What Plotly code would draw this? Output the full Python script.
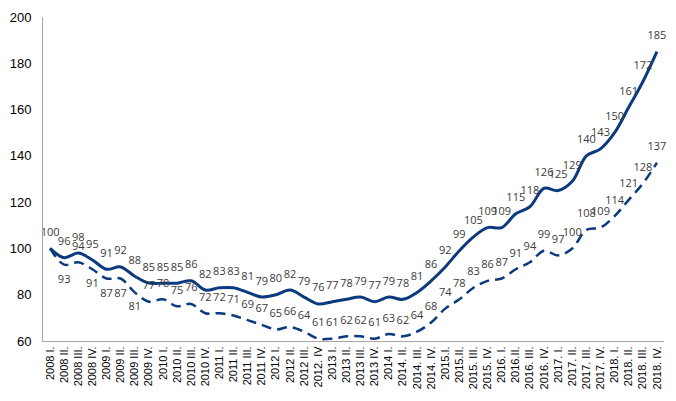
import plotly.graph_objects as go

quarters = ['2008 I.', '2008 II.', '2008 III.', '2008 IV.',
            '2009 I.', '2009 II.', '2009 III.', '2009 IV.',
            '2010 I.', '2010 II.', '2010 III.', '2010 IV.',
            '2011 I.', '2011 II.', '2011 III.', '2011 IV.',
            '2012 I.', '2012 II.', '2012 III.', '2012. IV',
            '2013 I.', '2013 II.', '2013 III.', '2013 IV.',
            '2014 I.', '2014. II.', '2014. III.', '2014. IV.',
            '2015.I.', '2015.II.', '2015. III.', '2015. IV.',
            '2016. I.', '2016.II.', '2016. III.', '2016. IV.',
            '2017. I.', '2017. II.', '2017. III.', '2017. IV.',
            '2018. I.', '2018. II.', '2018. III.', '2018. IV.']

# solid line
nominal = [100, 96, 98, 95, 91, 92, 88, 85, 85, 85, 86, 82, 83, 83, 81, 79,
           80, 82, 79, 76, 77, 78, 79, 77, 79, 78, 81, 86, 92, 99, 105, 109,
           109, 115, 118, 126, 125, 129, 140, 143, 150, 161, 172, 185]

# dashed line
real = [100, 93, 94, 91, 87, 87, 81, 77, 78, 75, 76, 72, 72, 71, 69, 67,
        65, 66, 64, 61, 61, 62, 62, 61, 63, 62, 64, 68, 74, 78, 83, 86,
        87, 91, 94, 99, 97, 100, 108, 109, 114, 121, 128, 137]

navy = '#0B3A7E'
label_font = dict(family='Open Sans', size=11, color='#3A3A3A')

# first dashed label sits under the solid one, the next few go below the line
real_text = [''] + [str(v) for v in real[1:]]
real_pos = ['top center'] * len(real)
for i in [1, 3, 4, 5, 6]:
    real_pos[i] = 'bottom center'

# invisible markers only push the labels away from the line
ghost = dict(size=14, opacity=0)

fig = go.Figure()
fig.add_trace(go.Scatter(x=quarters, y=nominal, mode='lines+markers+text',
                         text=[str(v) for v in nominal],
                         textposition='top center', textfont=label_font,
                         marker=ghost,
                         line=dict(color=navy, width=3, shape='spline'),
                         cliponaxis=False, showlegend=False))
fig.add_trace(go.Scatter(x=quarters, y=real, mode='lines+markers+text',
                         text=real_text,
                         textposition=real_pos, textfont=label_font,
                         marker=ghost,
                         line=dict(color=navy, width=2.5, shape='spline',
                                   dash='10px,6px'),
                         cliponaxis=False, showlegend=False))

# page body has an 8px margin on every side, keep the figure inside the window
fig.update_layout(width=660, height=385,
                  margin=dict(l=35, r=4, t=9, b=52),
                  plot_bgcolor='white', paper_bgcolor='white',
                  font=dict(family='Liberation Sans', color='#000000'))
fig.update_xaxes(type='category', tickangle=-90, showgrid=False,
                 showline=True, linecolor='#A6A6A6', linewidth=1,
                 ticks='', automargin=False,
                 tickfont=dict(size=11, family='Liberation Sans'),
                 range=[-0.5, len(quarters) - 0.5])
fig.update_yaxes(range=[60, 200], dtick=20, showgrid=False,
                 showline=True, linecolor='#A6A6A6', linewidth=1,
                 ticks='', zeroline=False, automargin=False,
                 ticklabelstandoff=8,
                 tickfont=dict(size=13, family='Liberation Sans'))

fig.write_html("out.html")
